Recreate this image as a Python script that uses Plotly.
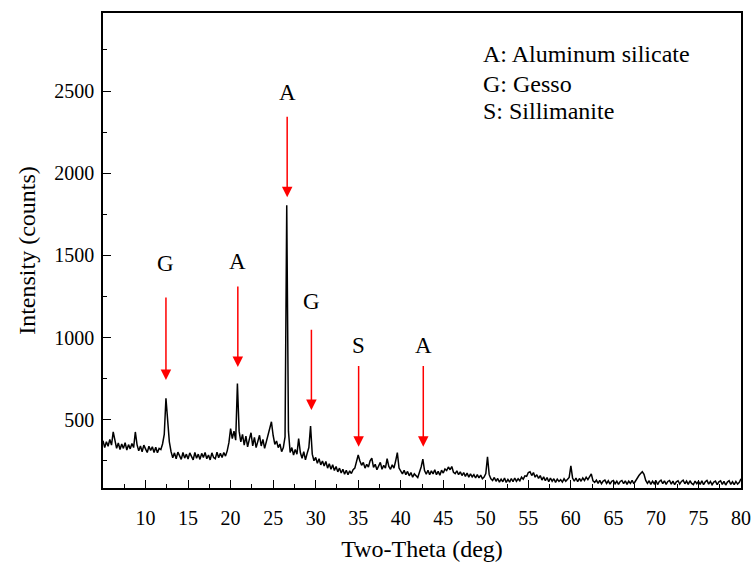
import plotly.graph_objects as go

# Sampling grid (deg), 0.2 deg steps from 5 to 80
start_deg = 5.0
step_deg = 0.2
intensity = [
    372, 330, 365, 338, 380, 345, 425, 362, 325, 358,
    318, 352, 325, 360, 315, 348, 322, 355, 330, 425,
    348, 310, 340, 305, 345, 322, 300, 338, 312, 335,
    300, 332, 298, 325, 318, 352, 410, 630, 515, 365,
    305, 268, 298, 262, 302, 275, 258, 300, 266, 290,
    260, 298, 272, 255, 300, 265, 290, 258, 295, 270,
    300, 262, 285, 255, 298, 270, 262, 302, 268, 295,
    270, 300, 278, 310, 360, 445, 385, 430, 375, 720,
    430, 365, 410, 345, 400, 335, 380, 420, 340, 392,
    330, 375, 405, 340, 380, 325, 365, 392, 430, 487,
    405, 350, 370, 330, 352, 305, 330, 395, 1805, 430,
    300, 330, 285, 318, 290, 385, 300, 265, 305, 255,
    295, 330, 461, 290, 250, 270, 235, 262, 225, 248,
    218, 245, 205, 232, 198, 225, 190, 215, 182, 205,
    175, 198, 168, 192, 165, 188, 172, 195, 205, 245,
    285, 248, 222, 240, 205, 228, 212, 250, 266, 210,
    228, 195, 215, 240, 198, 222, 205, 262, 215, 198,
    225, 205, 248, 299, 205, 182, 170, 192, 165, 185,
    158, 178, 150, 170, 160, 148, 180, 212, 260, 190,
    168, 192, 165, 188, 170, 195, 165, 185, 162, 192,
    175, 200, 190, 212, 195, 215, 180, 172, 188, 165,
    182, 160, 178, 155, 175, 150, 170, 152, 165, 145,
    165, 145, 162, 140, 150, 172, 274, 165, 140, 130,
    148, 125, 142, 120, 138, 122, 145, 118, 136, 120,
    142, 122, 145, 125, 140, 128, 150, 138, 158, 155,
    178, 183, 160, 178, 150, 165, 142, 160, 132, 152,
    128, 148, 122, 145, 125, 140, 118, 138, 124, 135,
    120, 140, 125, 138, 148, 218, 145, 125, 145, 122,
    142, 125, 145, 130, 150, 135, 155, 170, 128, 118,
    132, 112, 130, 110, 126, 132, 112, 128, 108, 125,
    130, 110, 125, 106, 124, 130, 110, 128, 106, 126,
    112, 130, 110, 128, 140, 160, 172, 183, 168, 130,
    112, 128, 106, 125, 110, 130, 105, 124, 132, 110,
    128, 106, 124, 130, 108, 126, 104, 122, 128, 108,
    124, 132, 110, 126, 106, 128, 112, 104, 126, 110,
    124, 106, 128, 104, 122, 130, 108, 124, 104, 120,
    126, 104, 122, 128, 106, 124, 102, 120, 128, 106,
    122, 104, 124, 108, 118, 140,
]
two_theta = [round(start_deg + step_deg * i, 1) for i in range(len(intensity))]

# Phase markers: label, x position, label height, arrow tail, arrow tip
marker_labels = ["G", "A", "A", "G", "S", "A"]
marker_x = [12.4, 20.85, 26.65, 29.5, 35.05, 42.65]
marker_label_y = [1453, 1465, 2493, 1221, 954, 954]
marker_tail_y = [1252, 1319, 2353, 1057, 836, 836]
marker_tip_y = [741, 820, 1854, 558, 335, 335]

legend_lines = ["A: Aluminum silicate", "G: Gesso", "S: Sillimanite"]

x_tick_vals = list(range(10, 81, 5))
y_tick_vals = [500, 1000, 1500, 2000, 2500]

FONT = "Liberation Serif, Times New Roman, serif"

fig = go.Figure()
fig.add_trace(go.Scatter(x=two_theta, y=intensity, mode="lines",
                         line=dict(color="black", width=1.5), showlegend=False))

annotations = []
for lab, x, ly, ty, py in zip(marker_labels, marker_x, marker_label_y,
                              marker_tail_y, marker_tip_y):
    annotations.append(dict(x=x, y=ly, xref="x", yref="y", text=lab, showarrow=False,
                            font=dict(family=FONT, size=23, color="black")))
    annotations.append(dict(x=x, y=py, ax=x, ay=ty, xref="x", yref="y",
                            axref="x", ayref="y", text="", showarrow=True,
                            arrowhead=2, arrowsize=1.4, arrowwidth=1.5,
                            arrowcolor="red"))

legend_y_px = [54, 84, 111]
for txt, ypx in zip(legend_lines, legend_y_px):
    annotations.append(dict(x=(481 - 103) / 638, y=(488 - ypx) / 475.3,
                            xref="paper", yref="paper", text=txt, showarrow=False,
                            xanchor="left", yanchor="middle",
                            font=dict(family=FONT, size=24, color="black")))

fig.update_layout(
    width=753, height=563,
    margin=dict(l=103, r=12, t=13, b=75, autoexpand=False),
    paper_bgcolor="white", plot_bgcolor="white",
    font=dict(family=FONT, size=20, color="black"),
    annotations=annotations,
)
fig.update_xaxes(
    range=[5, 80], tickvals=x_tick_vals, ticks="inside", ticklen=8, tickwidth=1.3,
    tickcolor="black", showline=True, linecolor="black", linewidth=1.5, mirror=True,
    showgrid=False, zeroline=False, automargin=False,
    minor=dict(ticks="inside", ticklen=4, dtick=2.5, tick0=0, tickcolor="black", tickwidth=1.3),
    tickfont=dict(family=FONT, size=20), ticklabelstandoff=11,
    title=dict(text="Two-Theta (deg)", font=dict(family=FONT, size=24), standoff=12),
)
fig.update_yaxes(
    range=[84, 2975], tickvals=y_tick_vals, ticks="inside", ticklen=8, tickwidth=1.3,
    tickcolor="black", showline=True, linecolor="black", linewidth=1.5, mirror=True,
    showgrid=False, zeroline=False, automargin=False,
    minor=dict(ticks="inside", ticklen=4, dtick=250, tick0=0, tickcolor="black", tickwidth=1.3),
    tickfont=dict(family=FONT, size=20), ticklabelstandoff=3,
    title=dict(text="Intensity (counts)", font=dict(family=FONT, size=24), standoff=12),
)

fig.write_html("out.html")
